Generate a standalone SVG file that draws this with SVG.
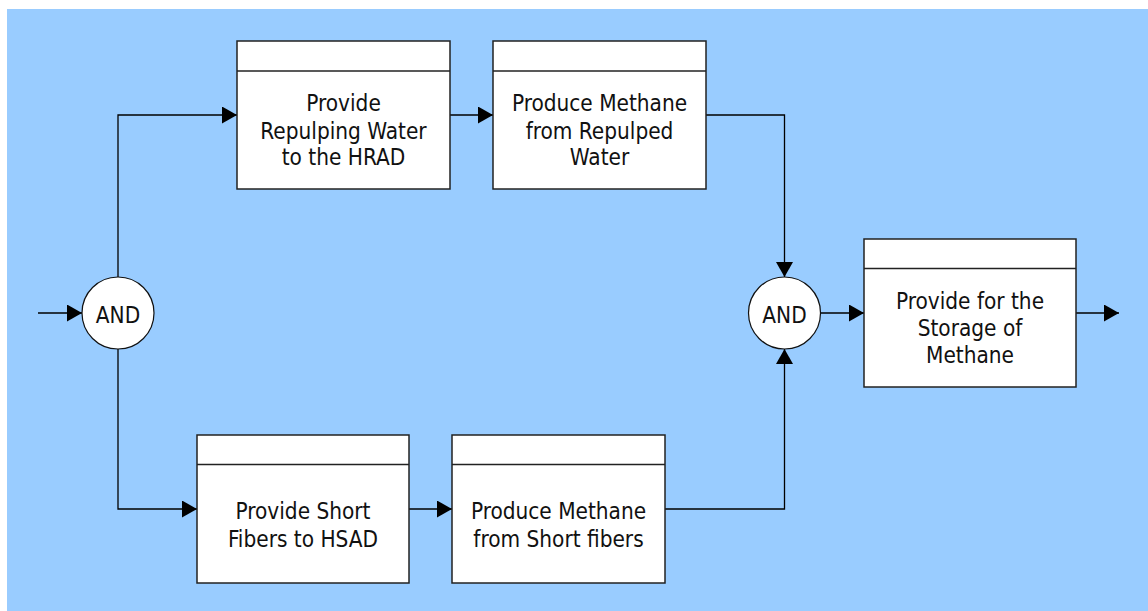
<svg xmlns="http://www.w3.org/2000/svg" width="1148" height="611" viewBox="0 0 1148 611">
  <style>
    .box { fill: #ffffff; stroke: #222222; stroke-width: 1.5; }
    .hdr { stroke: #222222; stroke-width: 1.5; }
    .gate { fill: #ffffff; stroke: #111111; stroke-width: 1.2; }
    .lbl { font-family: "DejaVu Sans Condensed", sans-serif; font-stretch: condensed; font-size: 22.4px; fill: #111111; text-anchor: middle; }
    .wire { fill: none; stroke: #000000; stroke-width: 1.3; marker-end: url(#arrow); }
  </style>
  <defs>
    <marker id="arrow" markerUnits="userSpaceOnUse" markerWidth="16" markerHeight="18" refX="15" refY="8.5" orient="auto">
      <path d="M0,0 L15,8.5 L0,17 z" fill="#000000"/>
    </marker>
  </defs>

  <!-- canvas -->
  <rect x="7" y="9" width="1141" height="602" fill="#99ccff"/>

  <!-- connectors -->
  <g id="connectors">
    <path class="wire" d="M38,313 H82"/>
    <path class="wire" d="M118,277 V115 H237"/>
    <path class="wire" d="M118,349 V509 H197"/>
    <path class="wire" d="M450,115 H493"/>
    <path class="wire" d="M706,115 H784.5 V277"/>
    <path class="wire" d="M409,509 H452"/>
    <path class="wire" d="M665,509 H784.5 V349"/>
    <path class="wire" d="M820.5,313 H864"/>
    <path class="wire" d="M1076,313 H1119"/>
  </g>

  <!-- junctions -->
  <g id="and-split">
    <circle class="gate" cx="118" cy="313" r="36"/>
    <text class="lbl" x="118" y="323">AND</text>
  </g>
  <g id="and-join">
    <circle class="gate" cx="784.5" cy="313" r="36"/>
    <text class="lbl" x="784.5" y="323">AND</text>
  </g>

  <!-- functions -->
  <g id="repulping-water">
    <rect class="box" x="237" y="41" width="213" height="148"/>
    <line class="hdr" x1="237" y1="71" x2="450" y2="71"/>
    <text class="lbl" x="343.5" y="111">Provide</text>
    <text class="lbl" x="343.5" y="138.5">Repulping Water</text>
    <text class="lbl" x="343.5" y="165">to the HRAD</text>
  </g>
  <g id="methane-repulped">
    <rect class="box" x="493" y="41" width="213" height="148"/>
    <line class="hdr" x1="493" y1="71" x2="706" y2="71"/>
    <text class="lbl" x="599.5" y="111">Produce Methane</text>
    <text class="lbl" x="599.5" y="138.5">from Repulped</text>
    <text class="lbl" x="599.5" y="165">Water</text>
  </g>
  <g id="short-fibers">
    <rect class="box" x="197" y="435" width="212" height="148"/>
    <line class="hdr" x1="197" y1="464.5" x2="409" y2="464.5"/>
    <text class="lbl" x="303" y="519">Provide Short</text>
    <text class="lbl" x="303" y="546.5">Fibers to HSAD</text>
  </g>
  <g id="methane-fibers">
    <rect class="box" x="452" y="435" width="213" height="148"/>
    <line class="hdr" x1="452" y1="464.5" x2="665" y2="464.5"/>
    <text class="lbl" x="558.5" y="519">Produce Methane</text>
    <text class="lbl" x="558.5" y="546.5">from Short fibers</text>
  </g>
  <g id="methane-storage">
    <rect class="box" x="864" y="239" width="212" height="148"/>
    <line class="hdr" x1="864" y1="268.5" x2="1076" y2="268.5"/>
    <text class="lbl" x="970" y="308.5">Provide for the</text>
    <text class="lbl" x="970" y="336">Storage of</text>
    <text class="lbl" x="970" y="362.5">Methane</text>
  </g>
</svg>
